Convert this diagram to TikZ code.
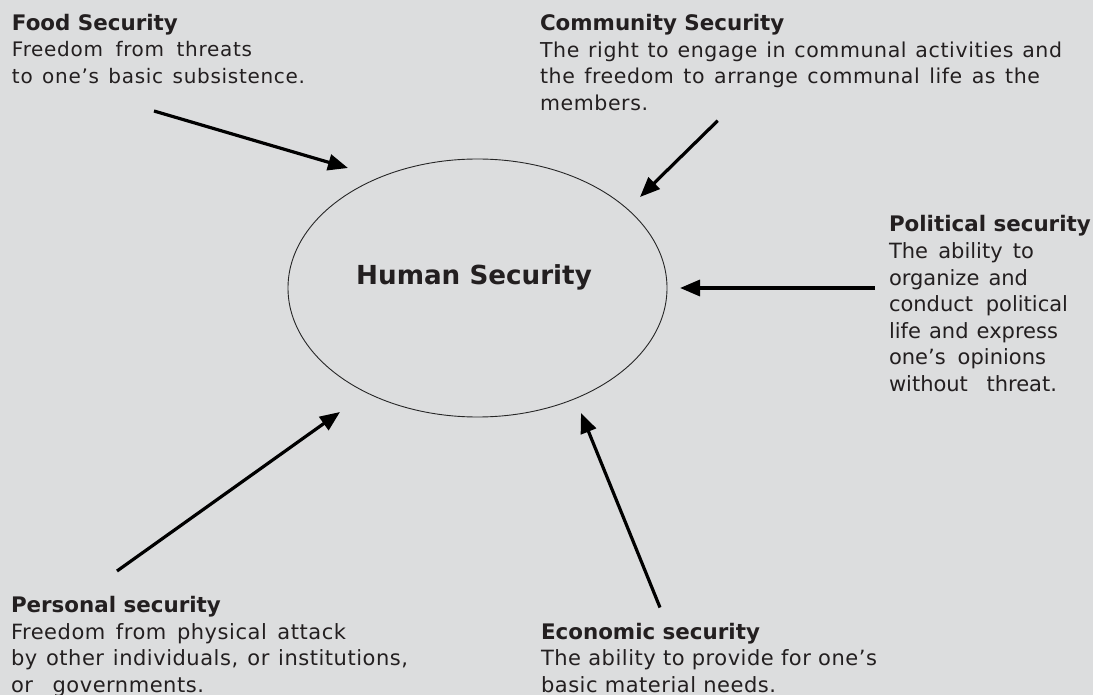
\documentclass[tikz,border=0pt]{standalone}
\usepackage{fontspec}
\usepackage{array}
\setmainfont{DejaVu Sans}
\newfontfamily\ttlfont{DejaVu Sans}
\newfontfamily\foodbody{DejaVu Sans}[LetterSpace=3.5]
\newfontfamily\commbody{DejaVu Sans}[LetterSpace=3]
\newfontfamily\polbody{DejaVu Sans}
\newfontfamily\perbody{DejaVu Sans}[LetterSpace=2.5]
\usetikzlibrary{arrows.meta,shapes.geometric}
\definecolor{bg}{RGB}{220,221,222}
\definecolor{ink}{RGB}{35,31,32}
\newcommand\ttl[1]{{\ttlfont\bfseries\fontsize{21.4}{26.7}\selectfont #1}}
\newcommand\fitl[2]{\makebox[#1pt][s]{#2}}
\newcommand\foodf{\foodbody\fontsize{20}{26.4}\selectfont}
\newcommand\commf{\commbody\fontsize{20.5}{26.4}\selectfont}
\newcommand\polf{\polbody\fontsize{21}{26.6}\selectfont}
\newcommand\perf{\perbody\fontsize{21}{26.7}\selectfont}
\tikzset{
  txt/.style={inner sep=0pt, outer sep=0pt, anchor=base west, text=ink},
  arr/.style={line width=3.2pt, draw=black, -{Triangle[length=20pt,width=16pt]}},
  hsell/.style={ellipse, draw=black!85, line width=0.9pt, inner sep=0pt,
    minimum width=379pt, minimum height=258pt}
}
\begin{document}
\begin{tikzpicture}[x=1pt,y=-1pt]
\fill[bg] (0,0) rectangle (1093,695);
\useasboundingbox (0,0) rectangle (1093,695);

% central ellipse
\node[hsell] (hs) at (477.5,288) {};
\node[inner sep=0pt, anchor=base, text=ink,
  font=\ttlfont\bfseries\fontsize{26.2}{30}\selectfont] (hsl) at (474,285) {Human Security};

% text blocks
\node[txt, font=\fontsize{20}{26.4}\selectfont] (food) at (12,30.5) {%
\begin{tabular}[t]{@{}>{\foodf}l@{}}
\ttl{Food Security}\\
\fitl{240}{Freedom from threats}\\
\fitl{293}{to one’s basic subsistence.}
\end{tabular}};

\node[txt, font=\fontsize{20.5}{26.4}\selectfont] (comm) at (540,31) {%
\begin{tabular}[t]{@{}>{\commf}l@{}}
\ttl{Community Security}\\
\fitl{522}{The right to engage in communal activities and}\\
\fitl{500}{the freedom to arrange communal life as the}\\
members.
\end{tabular}};

\node[txt, font=\fontsize{21}{26.6}\selectfont] (pol) at (889,232) {%
\begin{tabular}[t]{@{}>{\polf}l@{}}
\ttl{Political security}\\
\fitl{145}{The ability to}\\
\fitl{139}{organize and}\\
\fitl{179}{conduct political}\\
\fitl{169}{life and express}\\
\fitl{157}{one’s opinions}\\
\fitl{168}{without threat.}
\end{tabular}};

\node[txt, font=\fontsize{21}{26.7}\selectfont] (pers) at (11,612.5) {%
\begin{tabular}[t]{@{}>{\perf}l@{}}
\ttl{Personal security}\\
\fitl{335}{Freedom from physical attack}\\
\fitl{397}{by other individuals, or institutions,}\\
\fitl{193}{or governments.}
\end{tabular}};

\node[txt, font=\fontsize{21}{26.7}\selectfont] (econ) at (541,639.2) {%
\begin{tabular}[t]{@{}>{\perf}l@{}}
\ttl{Economic security}\\
The ability to provide for one’s\\
basic material needs.
\end{tabular}};

% arrow ends
\coordinate (foodS) at (154,111);
\coordinate (foodT) at (348,168);
\coordinate (commS) at (717.7,120.7);
\coordinate (commT) at (640,197);
\coordinate (polS) at (875,288);
\coordinate (polT) at (680,288);
\coordinate (persS) at (117,571);
\coordinate (persT) at (340,412);
\coordinate (econS) at (660,607.5);
\coordinate (econT) at (581,413);

\draw[arr] (foodS) -- (foodT);
\draw[arr] (commS) -- (commT);
\draw[arr] (polS) -- (polT);
\draw[arr] (persS) -- (persT);
\draw[arr] (econS) -- (econT);
\end{tikzpicture}
\end{document}
